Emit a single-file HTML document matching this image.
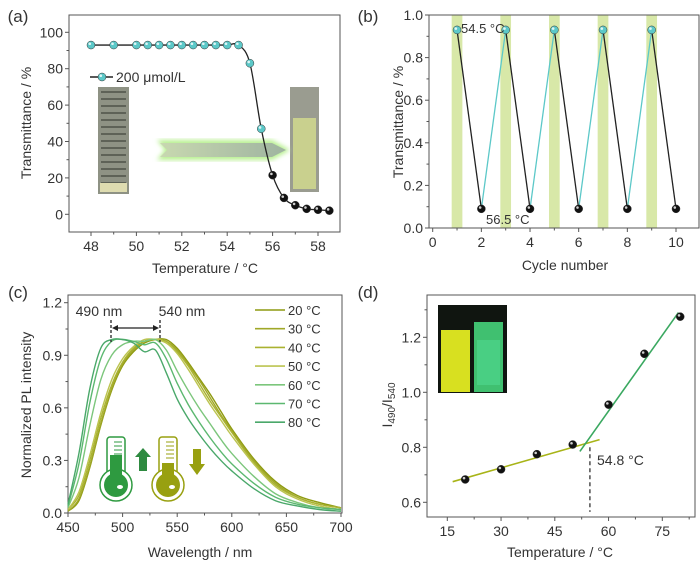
<!DOCTYPE html>
<html><head><meta charset="utf-8"><style>
body{margin:0;background:#fff;}
svg{display:block;font-family:"Liberation Sans",sans-serif;}
</style></head><body>
<svg id="fig" width="700" height="566" viewBox="0 0 700 566">
<defs>
<linearGradient id="arrowg" x1="0" x2="1"><stop offset="0" stop-color="#c8d8b0"/><stop offset="1" stop-color="#9fb4a0"/></linearGradient>
<filter id="glow"><feGaussianBlur stdDeviation="2.5"/></filter>
</defs>
</svg>
<script>
// ---------- data ----------
const aTemps=[48,49,50,50.5,51,51.5,52,52.5,53,53.5,54,54.5,55,55.5,56,56.5,57,57.5,58,58.5];
const aTrans=[93,93,93,93,93,93,93,93,93,93,93,93,83,47,21.5,9,5,3,2.5,2];
const aXTicks=[48,50,52,54,56,58];
const aYTicks=[0,20,40,60,80,100];
const bCycles=[1,2,3,4,5,6,7,8,9,10];
const bTrans=[0.93,0.09,0.93,0.09,0.93,0.09,0.93,0.09,0.93,0.09];
const bXTicks=[0,2,4,6,8,10];
const bYTicks=[0,0.2,0.4,0.6,0.8,1.0];
const cWl=[450,460,470,480,490,500,510,520,530,540,550,560,570,580,590,600,620,640,660,680,700];
const cLabels=["20 °C","30 °C","40 °C","50 °C","60 °C","70 °C","80 °C"];
const c20=[0.01,0.07,0.26,0.50,0.70,0.84,0.92,0.97,0.99,0.99,0.94,0.86,0.77,0.68,0.58,0.48,0.31,0.18,0.10,0.06,0.03];
const c30=[0.01,0.08,0.27,0.51,0.71,0.85,0.93,0.98,0.99,0.98,0.93,0.85,0.76,0.66,0.56,0.47,0.30,0.17,0.09,0.05,0.03];
const c40=[0.02,0.10,0.30,0.54,0.73,0.86,0.94,0.98,0.99,0.98,0.92,0.84,0.74,0.64,0.55,0.46,0.29,0.16,0.09,0.05,0.03];
const c50=[0.02,0.12,0.33,0.57,0.76,0.88,0.95,0.99,0.99,0.97,0.91,0.82,0.72,0.62,0.53,0.44,0.28,0.15,0.08,0.04,0.02];
const c60=[0.03,0.20,0.50,0.76,0.90,0.96,0.98,0.98,0.99,0.93,0.81,0.70,0.60,0.51,0.42,0.34,0.21,0.11,0.06,0.03,0.02];
const c70=[0.04,0.28,0.63,0.88,0.98,0.99,0.98,0.96,0.97,0.88,0.74,0.62,0.52,0.43,0.35,0.28,0.17,0.09,0.05,0.03,0.02];
const c80=[0.05,0.34,0.71,0.94,0.99,0.99,0.97,0.92,0.93,0.80,0.65,0.54,0.45,0.37,0.30,0.24,0.14,0.07,0.04,0.02,0.01];
const cSeries=[c20,c30,c40,c50,c60,c70,c80];
const cXTicks=[450,500,550,600,650,700];
const cYTicks=[0,0.3,0.6,0.9,1.2];
const dTemps=[20,30,40,50,60,70,80];
const dRatio=[0.683,0.72,0.775,0.81,0.955,1.14,1.275];
const dFitLow=[16.5,0.675,57.5,0.828];
const dFitHigh=[52,0.785,79.5,1.29];
const dTc=54.8;
const dXTicks=[15,30,45,60,75];
const dYTicks=[0.6,0.8,1.0,1.2];

// ---------- helpers ----------
const NS="http://www.w3.org/2000/svg";
const svg=document.getElementById('fig');
function el(tag,attrs,parent,text){const e=document.createElementNS(NS,tag);for(const k in attrs)e.setAttribute(k,attrs[k]);if(text!==undefined)e.textContent=text;(parent||svg).appendChild(e);return e;}
function lin(d0,d1,p0,p1){return v=>p0+(v-d0)*(p1-p0)/(d1-d0);}
function frame(g,x0,y0,x1,y1){const r=el('rect',{x:x0,y:y0,width:x1-x0,height:y1-y0,fill:'none',stroke:'#555','stroke-width':1},g);}
function xTicks(g,ticks,sx,yb,fmt,minor){ticks.forEach(t=>{const x=sx(t);el('line',{x1:x,x2:x,y1:yb,y2:yb+4,stroke:'#555'},g);const tx=el('text',{x:x,y:yb+19,'text-anchor':'middle','font-size':14,fill:'#333'},g,fmt(t));});
 if(minor)minor.forEach(t=>{const x=sx(t);el('line',{x1:x,x2:x,y1:yb,y2:yb+2.5,stroke:'#555'},g);});}
function yTicks(g,ticks,sy,xl,fmt,minor){ticks.forEach(t=>{const y=sy(t);el('line',{x1:xl,x2:xl-4,y1:y,y2:y,stroke:'#555'},g);const tx=el('text',{x:xl-6,y:y+5,'text-anchor':'end','font-size':14,fill:'#333'},g,fmt(t));});
 if(minor)minor.forEach(t=>{const y=sy(t);el('line',{x1:xl,x2:xl-2.5,y1:y,y2:y,stroke:'#555'},g);});}
function label(g,x,y,txt,name,size,rot){const a={x:x,y:y,'font-size':size||14,fill:'#333','text-anchor':'middle'};if(rot)a.transform=`rotate(-90 ${x} ${y})`;const t=el('text',a,g,txt);return t;}
function smooth(pts){let d=`M${pts[0][0]},${pts[0][1]}`;for(let i=0;i<pts.length-1;i++){const p0=pts[i-1]||pts[i],p1=pts[i],p2=pts[i+1],p3=pts[i+2]||p2;d+=` C${p1[0]+(p2[0]-p0[0])/6},${p1[1]+(p2[1]-p0[1])/6} ${p2[0]-(p3[0]-p1[0])/6},${p2[1]-(p3[1]-p1[1])/6} ${p2[0]},${p2[1]}`;}return d;}
function ball(g,x,y,col){el('circle',{cx:x,cy:y,r:4,fill:col,stroke:'#333','stroke-width':0.5},g);el('circle',{cx:x-1.2,cy:y-1.3,r:1.3,fill:'#fff',opacity:0.8},g);}

// ---------- panel a ----------
{const g=el('g',{});
 const sx=lin(48,58,91,318), sy=lin(0,100,214.3,32.3);
 label(g,18,22,'(a)','panel-label-a',17);
 const v1=el('g',{},g);
 el('rect',{x:98,y:87,width:31,height:107,fill:'#8e9284'},v1);
 for(let i=0;i<14;i++)el('rect',{x:101,y:91+i*7,width:25,height:2,fill:'#5e6257'},v1);
 el('rect',{x:100,y:183,width:27,height:9,fill:'#dedcb0'},v1);
 const v2=el('g',{},g);
 el('rect',{x:290,y:87,width:29,height:105,fill:'#9a9c90'},v2);
 el('rect',{x:293,y:118,width:23,height:71,fill:'#c9d08e'},v2);
 const ar=el('g',{},g);
 el('polygon',{points:'157,140 272,140 290,150 272,160 157,160 165,150',fill:'#b8f090',filter:'url(#glow)'},ar);
 el('polygon',{points:'160,143 272,143 286,150 272,157 160,157 167,150',fill:'url(#arrowg)'},ar);
 frame(g,69,15,340,232);
 xTicks(g,aXTicks,sx,232,t=>t,[49,51,53,55,57]);
 yTicks(g,aYTicks,sy,69,t=>t,[10,30,50,70,90]);
 el('path',{d:smooth(aTemps.map((t,i)=>[sx(t),sy(aTrans[i])])),fill:'none',stroke:'#222','stroke-width':1.3},g);
 aTemps.forEach((t,i)=>{ball(g,sx(t),sy(aTrans[i]),aTemps[i]<=55.5?'#5cc8c8':'#111');});
 el('line',{x1:90,x2:113,y1:77,y2:77,stroke:'#222','stroke-width':1.5},g);ball(g,102,77,'#5cc8c8');
 const lt=el('text',{x:116,y:82,'font-size':14,fill:'#333'},g,'200 μmol/L');
 label(g,205,273,'Temperature / °C','x-axis-title-a',14);
 label(g,31,123,'Transmittance / %','y-axis-title-a',14,true);
}
// ---------- panel b ----------
{const g=el('g',{});
 const sx=lin(0,10,432.7,676), sy=lin(0,1,228,15);
 label(g,368,22,'(b)','panel-label-b',17);
 bCycles.forEach((c,i)=>{if(i%2===0){const r=el('rect',{x:sx(c-0.22),y:15,width:sx(0.44)-sx(0),height:213,fill:'#d8e8a8'},g);}});
 frame(g,429,15,699,228);
 xTicks(g,bXTicks,sx,228,t=>t,[1,3,5,7,9]);
 yTicks(g,bYTicks,sy,429,t=>t.toFixed(1),[0.1,0.3,0.5,0.7,0.9]);
 for(let i=0;i<bCycles.length-1;i++){el('line',{x1:sx(bCycles[i]),y1:sy(bTrans[i]),x2:sx(bCycles[i+1]),y2:sy(bTrans[i+1]),stroke:bTrans[i]>bTrans[i+1]?'#222':'#5cc8c8','stroke-width':1.3},g);}
 bCycles.forEach((c,i)=>ball(g,sx(c),sy(bTrans[i]),i%2===0?'#5cc8c8':'#111'));
 const t1=el('text',{x:461,y:33,'font-size':13,fill:'#333'},g,'54.5 °C');
 const t2=el('text',{x:486,y:224,'font-size':13,fill:'#333'},g,'56.5 °C');
 label(g,565,270,'Cycle number','x-axis-title-b',14);
 label(g,403,122,'Transmittance / %','y-axis-title-b',14,true);
}
// ---------- panel c ----------
{const g=el('g',{});
 const sx=lin(450,700,68,341), sy=lin(0,1.2,513,302.7);
 const cols=['#8e9a10','#a0a828','#aab230','#bcc450','#7cc67c','#5cb870','#4aa86a'];
 label(g,18,298,'(c)','panel-label-c',17);
 frame(g,68,295,342,513);
 xTicks(g,cXTicks,sx,513,t=>t,[475,525,575,625,675]);
 yTicks(g,cYTicks,sy,68,t=>t.toFixed(1),[0.15,0.45,0.75,1.05]);
 cSeries.forEach((s,k)=>{const p=el('path',{d:smooth(cWl.map((w,i)=>[sx(w),sy(s[i])])),fill:'none',stroke:cols[k],'stroke-width':1.4},g);});
 cLabels.forEach((l,k)=>{const y=310+k*18.7;el('line',{x1:255,x2:285,y1:y,y2:y,stroke:cols[k],'stroke-width':1.6},g);const t=el('text',{x:288,y:y+5,'font-size':13,fill:'#333'},g,l);});
 label(g,99,316,'490 nm','peak-label-490',14);label(g,182,316,'540 nm','peak-label-540',14);
 el('line',{x1:111,x2:111,y1:320,y2:342,stroke:'#222','stroke-dasharray':'3,2','stroke-width':1.3},g);
 el('line',{x1:160,x2:160,y1:320,y2:342,stroke:'#222','stroke-dasharray':'3,2','stroke-width':1.3},g);
 el('line',{x1:115,x2:156,y1:328,y2:328,stroke:'#222','stroke-width':1.2},g);
 el('polygon',{points:'112,328 118,325 118,331',fill:'#222'},g);el('polygon',{points:'159,328 153,325 153,331',fill:'#222'},g);
 function thermo(x,c,lvl,nm){const t=el('g',{},g);
  el('rect',{x:x+6,y:437,width:18,height:46,rx:3,fill:'#fff',stroke:c,'stroke-width':1.5},t);
  el('circle',{cx:x+15,cy:485,r:16,fill:'#fff',stroke:c,'stroke-width':1.5},t);
  el('circle',{cx:x+15,cy:485,r:12,fill:c},t);
  el('rect',{x:x+9,y:lvl,width:12,height:480-lvl,fill:c},t);
  for(let i=0;i<5;i++)el('line',{x1:x+13,x2:x+21,y1:442+i*4,y2:442+i*4,stroke:c},t);
  el('ellipse',{cx:x+19,cy:487,rx:3,ry:2,fill:'#fff'},t);}
 thermo(101,'#2e9a40',455,'thermometer-high');
 el('polygon',{points:'143,448 151,457 147,457 147,471 139,471 139,457 135,457',fill:'#2e8a40'},g);
 thermo(153,'#98a010',463,'thermometer-low');
 el('polygon',{points:'197,475 205,464 201,464 201,449 193,449 193,464 189,464',fill:'#98a010'},g);
 label(g,200,557,'Wavelength / nm','x-axis-title-c',14);
 label(g,31,405,'Normalized PL intensity','y-axis-title-c',14,true);
}
// ---------- panel d ----------
{const g=el('g',{});
 const sx=lin(15,75,447.3,662.3), sy=lin(0.6,1.2,502.3,337.3);
 label(g,368,298,'(d)','panel-label-d',17);
 const ph=el('g',{},g);
 el('rect',{x:438,y:305,width:69,height:88,fill:'#101510'},ph);
 el('rect',{x:441,y:330,width:29,height:62,fill:'#d8e020'},ph);
 el('rect',{x:474,y:322,width:29,height:70,fill:'#40c070'},ph);
 el('rect',{x:477,y:340,width:23,height:45,fill:'#50d890',opacity:0.6},ph);
 frame(g,427,295,695,517);
 xTicks(g,dXTicks,sx,517,t=>t,[22.5,37.5,52.5,67.5,82.5]);
 yTicks(g,dYTicks,sy,427,t=>t.toFixed(1),[0.7,0.9,1.1,1.3]);
 const f1=el('line',{x1:sx(dFitLow[0]),y1:sy(dFitLow[1]),x2:sx(dFitLow[2]),y2:sy(dFitLow[3]),stroke:'#a8b418','stroke-width':1.6},g);
 const f2=el('line',{x1:sx(dFitHigh[0]),y1:sy(dFitHigh[1]),x2:sx(dFitHigh[2]),y2:sy(dFitHigh[3]),stroke:'#3aa860','stroke-width':1.6},g);
 el('line',{x1:sx(dTc),x2:sx(dTc),y1:sy(0.8),y2:sy(0.565),stroke:'#333','stroke-dasharray':'4,3','stroke-width':1.3},g);
 dTemps.forEach((t,i)=>ball(g,sx(t),sy(dRatio[i]),'#111'));
 const tc=el('text',{x:597,y:465,'font-size':14,fill:'#333'},g,'54.8 °C');
 label(g,560,557,'Temperature / °C','x-axis-title-d',14);
 const yt=el('text',{x:392,y:405,'font-size':14,fill:'#333','text-anchor':'middle',transform:'rotate(-90 392 405)'},g);
 
 el('tspan',{},yt,'I');el('tspan',{'font-size':10,dy:3},yt,'490');el('tspan',{dy:-3},yt,'/I');el('tspan',{'font-size':10,dy:3},yt,'540');
}
</script>
</body></html>
